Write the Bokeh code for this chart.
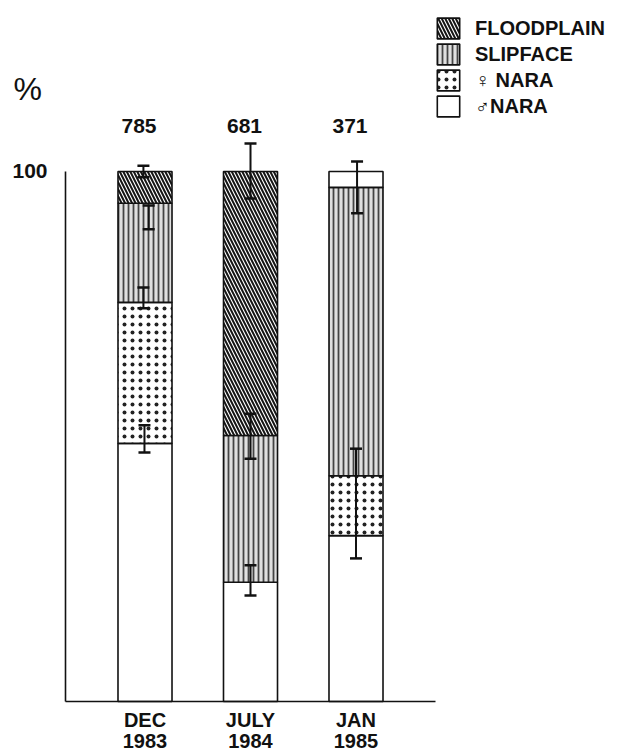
from bokeh.plotting import figure
from bokeh.models import (Range1d, FixedTicker, ColumnDataSource, Whisker, TeeHead,
                          Label, Legend, LegendItem, LinearAxis)
from bokeh.core.properties import value
from bokeh.embed import file_html
from bokeh.resources import INLINE

# ---- data -------------------------------------------------------------
periods = [1, 2, 3]
months = ["DEC", "JULY", "JAN"]
years = ["1983", "1984", "1985"]
sample_sizes = ["785", "681", "371"]

male_nara = [48.7, 22.5, 31.3]
female_nara = [26.6, 0.0, 11.3]
slipface = [18.7, 27.7, 54.4]
floodplain = [6.0, 49.8, 3.0]
floodplain_drawn_hatched = [True, True, False]

err_period = [1, 1, 1, 1, 2, 2, 2, 3, 3]
err_shift = [-0.015, 0.035, -0.015, -0.005, 0.0, 0.0, 0.0, 0.01, 0.0]
err_lower = [98.9, 89.1, 74.2, 47.0, 94.9, 45.8, 20.0, 92.1, 27.0]
err_upper = [101.1, 93.6, 78.1, 52.1, 105.3, 54.3, 25.7, 101.9, 47.7]

# ---- figure -----------------------------------------------------------
FONT = "Liberation Sans"
INK = "#111111"
XS, XE = -0.3697, 5.5166
AX_X0, AX_X1 = 0.2464, 3.7535
p = figure(width=621, height=755, output_backend="svg", toolbar_location=None,
           x_range=Range1d(XS, XE), y_range=Range1d(-10.189, 132.264),
           x_axis_type=None, y_axis_type=None,
           min_border_left=0, min_border_right=0, min_border_top=0,
           min_border_bottom=0)
p.outline_line_color = None
p.background_fill_color = "white"


def style_axis(ax, size):
    ax.major_tick_line_color = None
    ax.minor_tick_line_color = None
    ax.major_label_text_font = FONT
    ax.major_label_text_font_style = "bold"
    ax.major_label_text_font_size = size
    ax.major_label_text_color = INK


# x axis (months) with the base line
xaxis = LinearAxis(ticker=FixedTicker(ticks=periods),
                   major_label_overrides={k: v for k, v in zip(periods, months)},
                   bounds=(AX_X0, AX_X1), fixed_location=0)
style_axis(xaxis, "20px")
xaxis.axis_line_width = 1.6
xaxis.axis_line_color = INK
xaxis.major_label_standoff = 2
p.add_layout(xaxis, "below")

# second row of x labels (years)
xaxis2 = LinearAxis(ticker=FixedTicker(ticks=periods),
                    major_label_overrides={k: v for k, v in zip(periods, years)},
                    bounds=(AX_X0, AX_X1), fixed_location=0)
style_axis(xaxis2, "20px")
xaxis2.axis_line_color = None
xaxis2.major_label_standoff = 27
p.add_layout(xaxis2, "below")

# y axis
yaxis = LinearAxis(ticker=FixedTicker(ticks=[100]), bounds=(0, 100),
                   fixed_location=AX_X0)
style_axis(yaxis, "21px")
yaxis.axis_line_width = 1.6
yaxis.axis_line_color = INK
yaxis.major_label_standoff = 12
p.add_layout(yaxis, "left")

# stacked bars
BAR_W = 0.512
bottom = [0.0, 0.0, 0.0]
specs = [
    ("♂NARA", male_nara, dict(fill_color="white", hatch_pattern=" ")),
    ("♀ NARA", female_nara, dict(fill_color="white", hatch_pattern=".",
                                 hatch_color="#222222", hatch_scale=8, hatch_weight=2.0)),
    ("SLIPFACE", slipface, dict(fill_color="#e0e0e0", hatch_pattern="|",
                                hatch_color="#444444", hatch_scale=5, hatch_weight=1.8)),
    ("FLOODPLAIN", floodplain, None),
]
renderers = {}
for name, vals, style in specs:
    top = [b + v for b, v in zip(bottom, vals)]
    data = dict(x=periods, bottom=list(bottom), top=top)
    if style is None:
        data["hatch"] = ["\\" if h else " " for h in floodplain_drawn_hatched]
        style = dict(fill_color="white", hatch_pattern="hatch", hatch_color="#151515",
                     hatch_scale=7, hatch_weight=2.0)
    src = ColumnDataSource(data)
    r = p.vbar(x="x", bottom="bottom", top="top", width=BAR_W, source=src,
               line_color=INK, line_width=1.6, **style)
    renderers[name] = r
    bottom = top

# error bars
err_src = ColumnDataSource(dict(
    x=[pp + s for pp, s in zip(err_period, err_shift)],
    lower=err_lower, upper=err_upper))
p.add_layout(Whisker(base="x", lower="lower", upper="upper", source=err_src,
                     dimension="height", line_color=INK, line_width=2, level="overlay",
                     upper_head=TeeHead(size=12, line_width=2.5, line_color=INK),
                     lower_head=TeeHead(size=12, line_width=2.5, line_color=INK)))

# sample sizes
p.text(x=[pp - 0.057 for pp in periods], y=[108.5] * len(periods), text=sample_sizes,
       text_font=value(FONT), text_font_style="bold", text_font_size="21px",
       text_align="center", text_baseline="middle", text_color=INK)

# % label
p.add_layout(Label(x=-0.2465, y=115.5, text="%", text_font=FONT, text_font_size="32px",
                   text_align="left", text_baseline="middle", text_color=INK))

# legend
legend = Legend(items=[LegendItem(label=n, renderers=[renderers[n]])
                       for n in ["FLOODPLAIN", "SLIPFACE", "♀ NARA", "♂NARA"]],
                location=(434, 636), orientation="vertical",
                glyph_width=28, glyph_height=26, label_height=26, spacing=0,
                padding=0, margin=0, label_standoff=13,
                border_line_color=None, background_fill_alpha=0,
                label_text_font="Liberation Sans, DejaVu Sans", label_text_font_style="bold",
                label_text_font_size="20px", label_text_color=INK)
p.add_layout(legend)

open("out.html", "w").write(file_html(p, INLINE))
